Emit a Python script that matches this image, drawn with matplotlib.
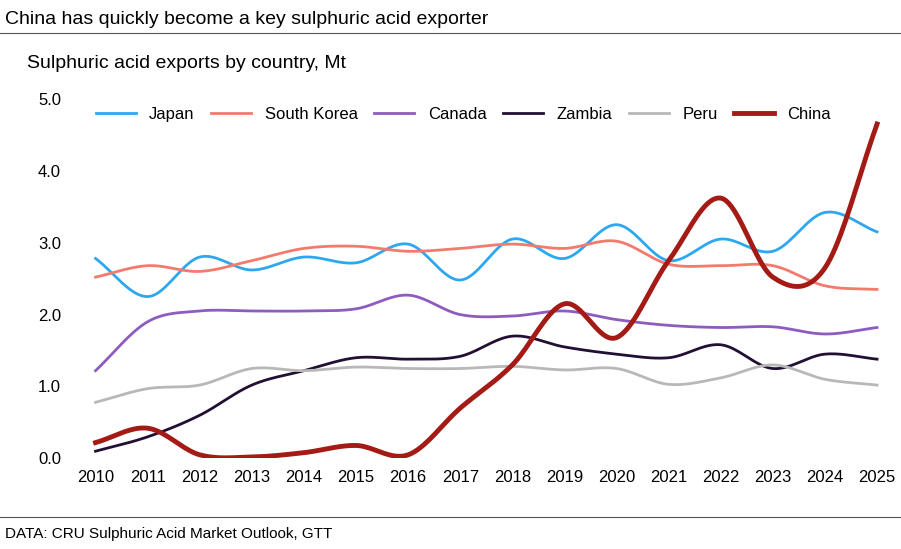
import matplotlib.pyplot as plt
import numpy as np

plt.rcParams['font.family'] = ['Liberation Sans', 'DejaVu Sans']

years = list(range(2010, 2026))
japan = [2.78, 2.25, 2.8, 2.62, 2.8, 2.72, 2.98, 2.48, 3.05, 2.78, 3.25, 2.75, 3.05, 2.88, 3.42, 3.15]
korea = [2.52, 2.68, 2.6, 2.75, 2.92, 2.95, 2.88, 2.92, 2.98, 2.92, 3.02, 2.7, 2.68, 2.68, 2.4, 2.35]
canada = [1.22, 1.9, 2.05, 2.05, 2.05, 2.08, 2.27, 2.0, 1.98, 2.05, 1.93, 1.85, 1.82, 1.83, 1.73, 1.82]
zambia = [0.1, 0.3, 0.6, 1.02, 1.22, 1.4, 1.38, 1.42, 1.7, 1.55, 1.45, 1.4, 1.58, 1.25, 1.45, 1.38]
peru = [0.78, 0.97, 1.02, 1.25, 1.22, 1.27, 1.25, 1.25, 1.28, 1.23, 1.25, 1.03, 1.12, 1.3, 1.1, 1.02]
china = [0.22, 0.42, 0.05, 0.02, 0.08, 0.18, 0.05, 0.7, 1.3, 2.15, 1.68, 2.75, 3.62, 2.52, 2.65, 4.65]

def smooth(x, y, n=20):
    # catmull-rom through the points, like excel's smoothed lines
    x = np.asarray(x, float); y = np.asarray(y, float)
    px = np.concatenate([[2*x[0]-x[1]], x, [2*x[-1]-x[-2]]])
    py = np.concatenate([[2*y[0]-y[1]], y, [2*y[-1]-y[-2]]])
    xs, ys = [], []
    t = np.linspace(0, 1, n, endpoint=False)
    for i in range(1, len(px)-2):
        for p, out in ((px, xs), (py, ys)):
            p0, p1, p2, p3 = p[i-1], p[i], p[i+1], p[i+2]
            out.extend(0.5*(2*p1 + (-p0+p2)*t + (2*p0-5*p1+4*p2-p3)*t**2 + (-p0+3*p1-3*p2+p3)*t**3))
    xs.append(x[-1]); ys.append(y[-1])
    return xs, ys

fig = plt.figure(figsize=(9.01, 5.49), dpi=100)
ax = fig.add_axes([0.08, 0.165, 0.905, 0.655])

series = [("Japan", japan, "#2da8f0", 2), ("South Korea", korea, "#f47a6e", 2),
          ("Canada", canada, "#8e5cc0", 2), ("Zambia", zambia, "#221034", 2),
          ("Peru", peru, "#b8b8b8", 2), ("China", china, "#a31b14", 3.5)]
for name, vals, col, lw in series:
    sx, sy = smooth(years, vals)
    ax.plot(sx, sy, color=col, lw=lw, label=name)

ax.set_xlim(2009.55, 2025.2)
ax.set_ylim(0, 5)
ax.set_xticks(years)
ax.set_yticks(np.arange(0, 5.1, 1))
ax.set_yticklabels([f"{v:.1f}" for v in np.arange(0, 5.1, 1)])
ax.tick_params(length=0, labelsize=12, pad=8)
for s in ax.spines.values():
    s.set_visible(False)
ax.legend(ncol=6, loc="upper center", bbox_to_anchor=(0.48, 1.02), frameon=False,
          fontsize=12, handlelength=2.4, columnspacing=1.0)

fig.text(0.005, 0.965, "China has quickly become a key sulphuric acid exporter", fontsize=14, va="center")
fig.add_artist(plt.Line2D([0, 1], [0.94, 0.94], color="#555555", lw=0.8))
fig.text(0.03, 0.885, "Sulphuric acid exports by country, Mt", fontsize=14, va="center")
fig.add_artist(plt.Line2D([0, 1], [0.058, 0.058], color="#555555", lw=0.8))
fig.text(0.005, 0.028, "DATA: CRU Sulphuric Acid Market Outlook, GTT", fontsize=11, va="center")

fig.savefig("out.png")
